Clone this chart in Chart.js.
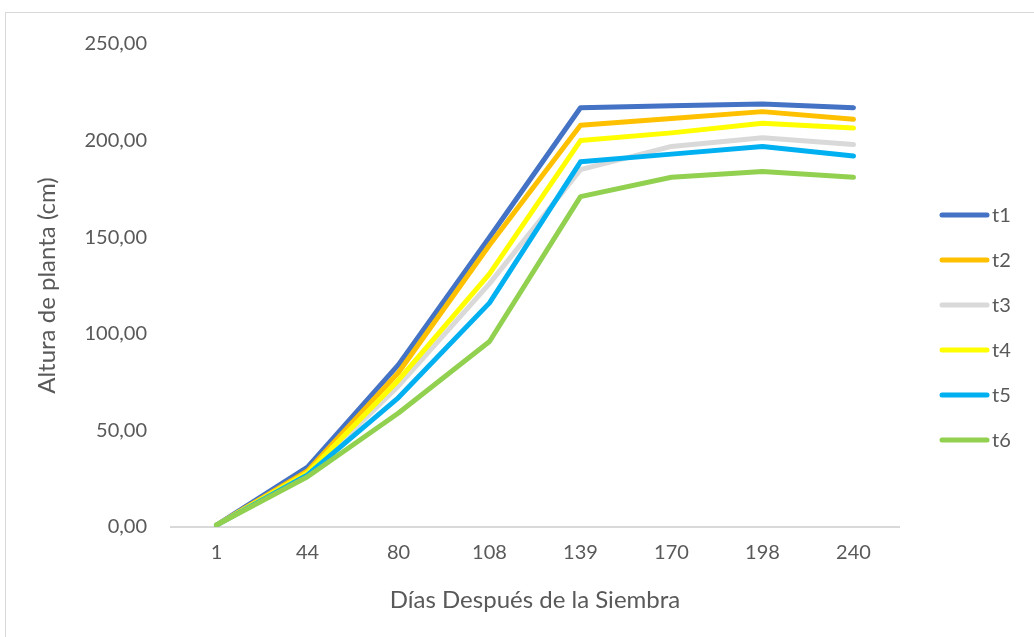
<!DOCTYPE html>
<html>
<head>
<meta charset="utf-8">
<script src="https://cdn.jsdelivr.net/npm/chart.js@4/dist/chart.umd.min.js"></script>
<style>
  html, body { margin: 0; padding: 0; background: #fff; overflow: hidden; }
  #wrap { position: relative; width: 1034px; height: 637px; }
  #frame { position: absolute; left: 5px; top: 12px; width: 1200px; height: 800px; border: 1px solid #d9d9d9; box-sizing: border-box; }
  canvas { position: absolute; left: 0; top: 0; }
</style>
</head>
<body>
<div id="wrap">
  <div id="frame"></div>
  <canvas id="c" width="1034" height="637"></canvas>
</div>
<script>
const categories = ['1', '44', '80', '108', '139', '170', '198', '240'];
const t1 = [1, 31, 84, 150, 217, 218, 219, 217];
const t2 = [1, 29, 80, 146, 208, 211.5, 215, 211];
const t3 = [1, 27, 73, 126, 185, 197, 201.5, 198];
const t4 = [1, 28, 76, 131, 200, 204, 209, 206.5];
const t5 = [1, 27, 67, 116, 189, 193, 197, 192];
const t6 = [1, 26, 59, 96, 171, 181, 184, 181];
const seriesNames = ['t1', 't2', 't3', 't4', 't5', 't6'];
const seriesValues = [t1, t2, t3, t4, t5, t6];
const seriesColors = ['#4472C4', '#FFC000', '#D9D9D9', '#FFFF00', '#00B0F0', '#92D050'];
const yTicks = [0, 50, 100, 150, 200, 250];

const FONT = 'Lato, "Open Sans", sans-serif';
const TXT = '#595959';

const legendPlugin = {
  id: 'sideLegend',
  afterDraw(chart) {
    const ctx = chart.ctx;
    ctx.save();
    chart.data.datasets.forEach((ds, i) => {
      const y = 215 + i * 45;
      ctx.strokeStyle = ds.borderColor;
      ctx.lineWidth = 5;
      ctx.lineCap = 'round';
      ctx.beginPath();
      ctx.moveTo(942, y);
      ctx.lineTo(987, y);
      ctx.stroke();
      ctx.fillStyle = TXT;
      ctx.font = '20px ' + FONT;
      ctx.textBaseline = 'middle';
      ctx.textAlign = 'left';
      ctx.fillText(ds.label, 992, y + 1);
    });
    ctx.restore();
  }
};

new Chart(document.getElementById('c'), {
  type: 'line',
  data: {
    labels: categories,
    datasets: seriesNames.map((n, i) => ({
      label: n,
      data: seriesValues[i],
      borderColor: seriesColors[i],
      backgroundColor: seriesColors[i],
      borderWidth: 5,
      pointRadius: 0,
      tension: 0,
      borderCapStyle: 'round',
      borderJoinStyle: 'round',
      order: seriesNames.length - i
    }))
  },
  options: {
    responsive: false,
    animation: false,
    devicePixelRatio: 1,
    layout: { padding: { left: 0, right: 135, top: 44, bottom: 0 } },
    plugins: { legend: { display: false }, tooltip: { enabled: false } },
    scales: {
      x: {
        offset: true,
        grid: { display: false, drawTicks: false },
        border: { display: true, color: '#d9d9d9', width: 2 },
        ticks: { color: TXT, font: { family: FONT, size: 20 }, padding: 14, maxRotation: 0 },
        title: { display: true, text: 'Días Después de la Siembra', color: TXT, font: { family: FONT, size: 24 }, padding: { top: 0, bottom: 22 } },
        afterFit(scale) { scale.height = 110; }
      },
      y: {
        min: 0, max: 250,
        grid: { display: false, drawTicks: false },
        border: { display: false },
        afterBuildTicks(scale) { scale.ticks = yTicks.map(v => ({ value: v })); },
        ticks: {
          color: TXT, font: { family: FONT, size: 20 }, padding: 24,
          callback: v => v.toFixed(2).replace('.', ',')
        },
        title: { display: true, text: 'Altura de planta (cm)', color: TXT, font: { family: FONT, size: 24 }, padding: { top: 33, bottom: 0 } },
        afterFit(scale) { scale.width = 171; }
      }
    }
  },
  plugins: [legendPlugin]
});
</script>
</body>
</html>
